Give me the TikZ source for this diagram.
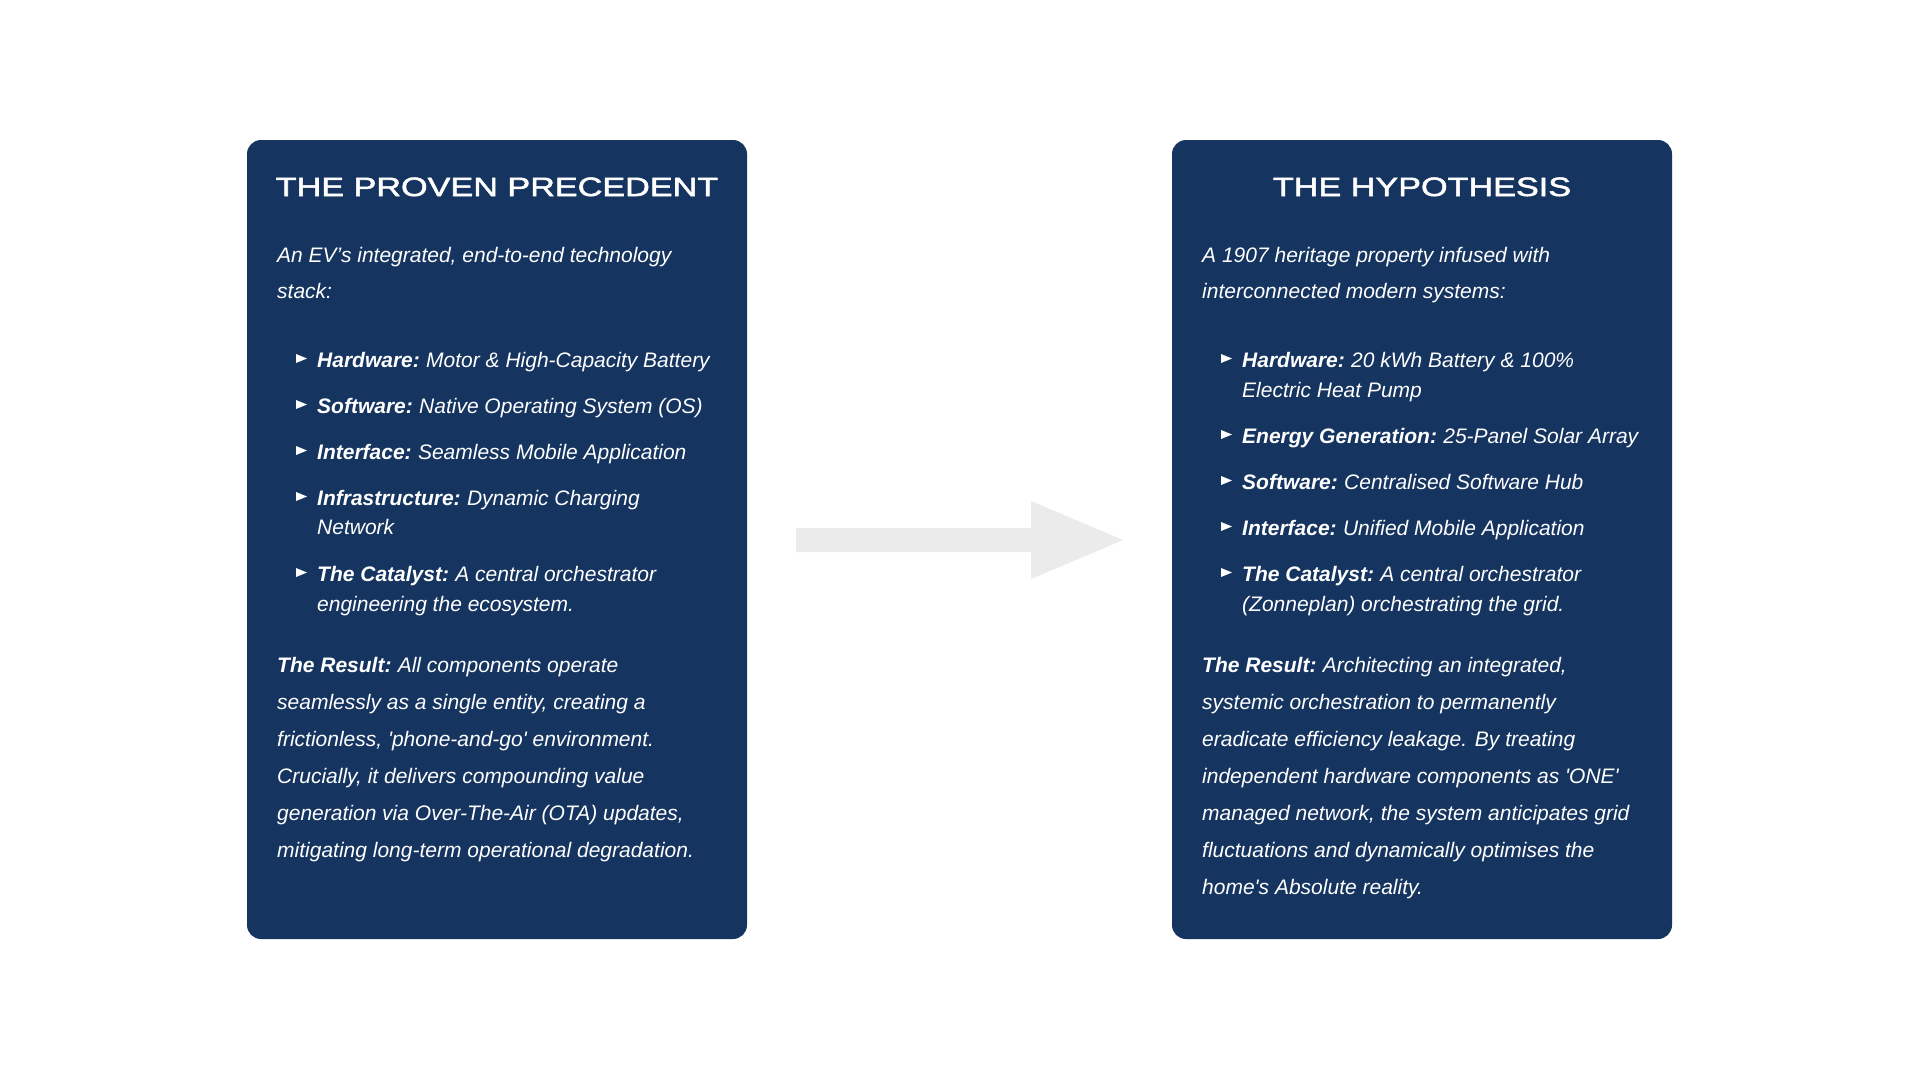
\documentclass[tikz,border=0pt]{standalone}
\usepackage{fontspec}
\setmainfont{Liberation Sans}
\newfontfamily\ttlfont[FakeStretch=1.29,FakeBold=2]{Liberation Sans}
\newcommand\bodyfnt{\fontsize{21}{30}\selectfont\itshape}
\newcommand\hd[1]{{\bfseries #1\kern-1.5pt\relax}}
\definecolor{navy}{HTML}{15345F}
\definecolor{arrowgray}{HTML}{EBEBEB}
\begin{document}
\begin{tikzpicture}[x=1pt,y=-1pt,
  panel/.style={fill=navy, rounded corners=14pt, minimum width=500pt, minimum height=799pt, inner sep=0pt},
  ttl/.style={anchor=base, inner sep=0pt, text=white, font=\ttlfont\fontsize{26.5}{30}\selectfont},
  txt/.style={anchor=base west, inner sep=0pt, text=white, font=\bodyfnt},
  bul/.style={fill=white}]
\useasboundingbox (0,0) rectangle (1920,1080);
\fill[white] (0,0) rectangle (1920,1080);

% panels
\node[panel] (L) at (497,539.5) {};
\node[panel] (R) at (1422,539.5) {};

% arrow
\coordinate (a0) at (796,540);
\coordinate (a1) at (1123,540);
\fill[arrowgray] (796,528) -- (1031,528) -- (1031,501) -- (a1) -- (1031,579) -- (1031,552) -- (796,552) -- cycle;

% left panel
\node[ttl] (Lt) at (497,196) {THE PROVEN PRECEDENT};
\node[txt] (Li1) at (277,262) {An EV’s integrated, end-to-end technology};
\node[txt] (Li2) at (277,298) {stack:};
\foreach \yb in {367,413,459,505,581}
  \fill[bul] (296,\yb-13) -- (307,\yb-8.5) -- (296,\yb-4) -- cycle;
\node[txt] (Lb1) at (317,367) {\hd{Hardware:} Motor \& High-Capacity Battery};
\node[txt] (Lb2) at (317,413) {\hd{Software:} Native Operating System (OS)};
\node[txt] (Lb3) at (317,459) {\hd{Interface:} Seamless Mobile Application};
\node[txt] (Lb4) at (317,505) {\hd{Infrastructure:} Dynamic Charging};
\node[txt] (Lb4b) at (317,534) {Network};
\node[txt] (Lb5) at (317,581) {\hd{The Catalyst:} A central orchestrator};
\node[txt] (Lb5b) at (317,611) {engineering the ecosystem.};
\node[txt] (Lr1) at (277,672) {\hd{The Result:} All components operate};
\node[txt] (Lr2) at (277,709) {seamlessly as a single entity, creating a};
\node[txt] (Lr3) at (277,746) {frictionless, \textquotesingle phone-and-go\textquotesingle\ environment.};
\node[txt] (Lr4) at (277,783) {Crucially, it delivers compounding value};
\node[txt] (Lr5) at (277,820) {generation via Over-The-Air (OTA) updates,};
\node[txt] (Lr6) at (277,857) {mitigating long-term operational degradation.};

% right panel
\node[ttl] (Rt) at (1422,196) {THE HYPOTHESIS};
\node[txt] (Ri1) at (1202,262) {A 1907 heritage property infused with};
\node[txt] (Ri2) at (1202,298) {interconnected modern systems:};
\foreach \yb in {367,443,489,535,581}
  \fill[bul] (1221,\yb-13) -- (1232,\yb-8.5) -- (1221,\yb-4) -- cycle;
\node[txt] (Rb1) at (1242,367) {\hd{Hardware:} 20 kWh Battery \& 100\%};
\node[txt] (Rb1b) at (1242,397) {Electric Heat Pump};
\node[txt] (Rb2) at (1242,443) {\hd{Energy Generation:} 25-Panel Solar Array};
\node[txt] (Rb3) at (1242,489) {\hd{Software:} Centralised Software Hub};
\node[txt] (Rb4) at (1242,535) {\hd{Interface:} Unified Mobile Application};
\node[txt] (Rb5) at (1242,581) {\hd{The Catalyst:} A central orchestrator};
\node[txt] (Rb5b) at (1242,611) {(Zonneplan) orchestrating the grid.};
\node[txt] (Rr1) at (1202,672) {\hd{The Result:} Architecting an integrated,};
\node[txt] (Rr2) at (1202,709) {systemic orchestration to permanently};
\node[txt] (Rr3) at (1202,746) {eradicate efficiency leakage. By treating};
\node[txt] (Rr4) at (1202,783) {independent hardware components as \textquotesingle ONE\textquotesingle};
\node[txt] (Rr5) at (1202,820) {managed network, the system anticipates grid};
\node[txt] (Rr6) at (1202,857) {fluctuations and dynamically optimises the};
\node[txt] (Rr7) at (1202,894) {home\textquotesingle s Absolute reality.};
\end{tikzpicture}
\end{document}
